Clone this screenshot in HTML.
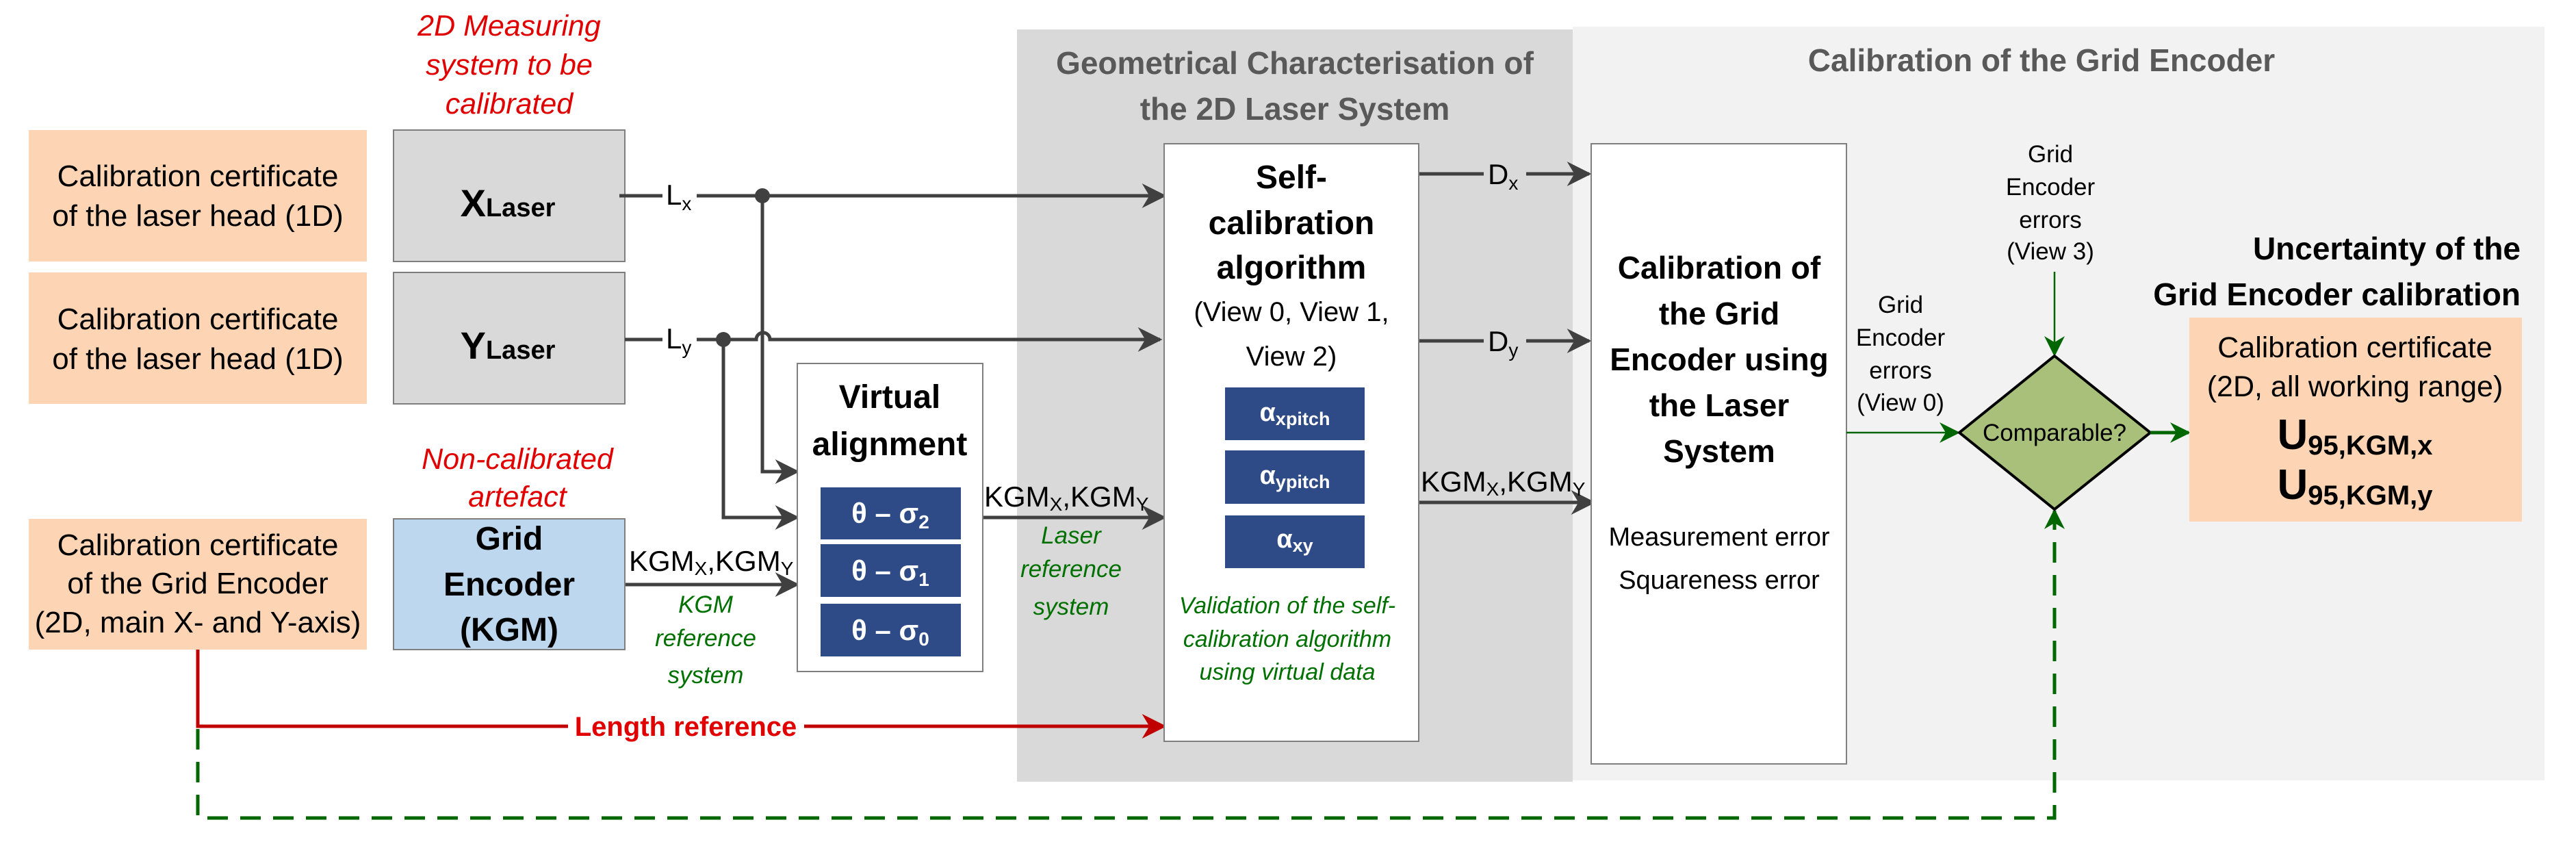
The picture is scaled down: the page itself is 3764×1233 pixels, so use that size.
<!DOCTYPE html>
<html><head><meta charset="utf-8"><style>
html,body{margin:0;padding:0;background:#fff;}
svg{display:block;}
text{font-family:"Liberation Sans",sans-serif;}
</style></head><body>
<svg width="3764" height="1233" viewBox="0 0 3764 1233" xmlns="http://www.w3.org/2000/svg">
<defs>
<marker id="ar" viewBox="0 0 10 10" refX="9" refY="5" markerWidth="36" markerHeight="36" orient="auto" markerUnits="userSpaceOnUse"><path d="M0,0 L10,5 L0,10 L3,5 z" fill="#c00000"/></marker>
<marker id="agr" viewBox="0 0 10 10" refX="9" refY="5" markerWidth="30" markerHeight="30" orient="auto" markerUnits="userSpaceOnUse"><path d="M0,0 L10,5 L0,10 L3,5 z" fill="#006600"/></marker>
<marker id="adk" viewBox="0 0 10 10" refX="9" refY="5" markerWidth="36" markerHeight="36" orient="auto" markerUnits="userSpaceOnUse"><path d="M0,0 L10,5 L0,10 L3,5 z" fill="#404040"/></marker>
</defs>

<rect x="1486" y="43" width="812" height="1099" fill="#d9d9d9"/>
<rect x="2298" y="39" width="1420" height="1101" fill="#f2f2f2"/>
<text x="1892" y="108" font-size="46" font-weight="bold" fill="#595959" text-anchor="middle">Geometrical Characterisation of</text>
<text x="1892" y="175" font-size="46" font-weight="bold" fill="#595959" text-anchor="middle">the 2D Laser System</text>
<text x="2983" y="104" font-size="46" font-weight="bold" fill="#595959" text-anchor="middle">Calibration of the Grid Encoder</text>

<g font-size="44" text-anchor="middle" fill="#000">
<rect x="42" y="190" width="494" height="192" fill="#fdd5b5"/>
<text x="289" y="272">Calibration certificate</text><text x="289" y="330">of the laser head (1D)</text>
<rect x="42" y="398" width="494" height="192" fill="#fdd5b5"/>
<text x="289" y="481">Calibration certificate</text><text x="289" y="539">of the laser head (1D)</text>
<rect x="42" y="758" width="494" height="191" fill="#fdd5b5"/>
<text x="289" y="811">Calibration certificate</text><text x="289" y="867">of the Grid Encoder</text><text x="289" y="924">(2D, main X- and Y-axis)</text>
</g>

<g font-size="43" font-style="italic" fill="#e00000" text-anchor="middle">
<text x="744" y="52">2D Measuring</text><text x="744" y="109">system  to be</text><text x="744" y="166">calibrated</text>
<text x="756" y="685">Non-calibrated</text><text x="756" y="740">artefact</text>
</g>

<rect x="575" y="190" width="338" height="192" fill="#d9d9d9" stroke="#7f7f7f" stroke-width="2"/>
<text x="742" y="316" font-size="56" font-weight="bold" text-anchor="middle">X<tspan font-size="38">Laser</tspan></text>
<rect x="575" y="398" width="338" height="192" fill="#d9d9d9" stroke="#7f7f7f" stroke-width="2"/>
<text x="742" y="524" font-size="56" font-weight="bold" text-anchor="middle">Y<tspan font-size="38">Laser</tspan></text>
<rect x="575" y="758" width="338" height="191" fill="#bdd7ee" stroke="#7f7f7f" stroke-width="2"/>
<g font-size="48" font-weight="bold" text-anchor="middle"><text x="744" y="803">Grid</text><text x="744" y="870">Encoder</text><text x="744" y="936">(KGM)</text></g>

<g stroke="#404040" stroke-width="5" fill="none">
<path d="M905,286 H968"/><path d="M1018,286 H1701" marker-end="url(#adk)"/>
<path d="M913,496 H968"/><path d="M1018,496 H1105 a10,10 0 0 1 20,0 H1695" marker-end="url(#adk)"/>
<path d="M1114,286 V689 H1165" marker-end="url(#adk)"/>
<path d="M1057,496 V756 H1165" marker-end="url(#adk)"/>
<path d="M914,854 H1165" marker-end="url(#adk)"/>
<path d="M1436,756 H1701" marker-end="url(#adk)"/>
<path d="M2070,254 H2168"/><path d="M2230,254 H2322" marker-end="url(#adk)"/>
<path d="M2073,498 H2168"/><path d="M2230,498 H2322" marker-end="url(#adk)"/>
<path d="M2073,734 H2328" marker-end="url(#adk)"/>
</g>
<circle cx="1114" cy="286" r="11" fill="#404040"/>
<circle cx="1057" cy="496" r="11" fill="#404040"/>

<text x="973" y="299" font-size="42">L<tspan font-size="28" dy="8">x</tspan></text>
<text x="973" y="509" font-size="42">L<tspan font-size="28" dy="8">y</tspan></text>
<text x="919" y="834" font-size="42">KGM<tspan font-size="28" dy="6">X</tspan><tspan dy="-6">,KGM</tspan><tspan font-size="28" dy="6">Y</tspan></text>
<text x="1438" y="740" font-size="42">KGM<tspan font-size="28" dy="6">X</tspan><tspan dy="-6">,KGM</tspan><tspan font-size="28" dy="6">Y</tspan></text>
<text x="2076" y="718" font-size="42">KGM<tspan font-size="28" dy="6">X</tspan><tspan dy="-6">,KGM</tspan><tspan font-size="28" dy="6">Y</tspan></text>
<text x="2174" y="269" font-size="42">D<tspan font-size="28" dy="8">x</tspan></text>
<text x="2174" y="513" font-size="42">D<tspan font-size="28" dy="8">y</tspan></text>

<g font-size="35" font-style="italic" fill="#007000" text-anchor="middle">
<text x="1031" y="895">KGM</text><text x="1031" y="944">reference</text><text x="1031" y="998">system</text>
<text x="1565" y="794">Laser</text><text x="1565" y="843">reference</text><text x="1565" y="898">system</text>
</g>

<rect x="1165" y="531" width="271" height="450" fill="#fff" stroke="#7f7f7f" stroke-width="2"/>
<g font-size="48" font-weight="bold" text-anchor="middle"><text x="1300" y="596">Virtual</text><text x="1300" y="665">alignment</text></g>
<g fill="#2f4b87"><rect x="1199" y="712" width="205" height="76"/><rect x="1199" y="795" width="205" height="77"/><rect x="1199" y="882" width="205" height="77"/></g>
<g font-size="42" font-weight="bold" fill="#fff" text-anchor="middle">
<text x="1301" y="764">θ – σ<tspan font-size="28" dy="8">2</tspan></text>
<text x="1301" y="848">θ – σ<tspan font-size="28" dy="8">1</tspan></text>
<text x="1301" y="935">θ – σ<tspan font-size="28" dy="8">0</tspan></text>
</g>

<path d="M289,949 V1061 H830" stroke="#c00000" stroke-width="5" fill="none"/>
<path d="M1175,1061 H1701" stroke="#c00000" stroke-width="5" fill="none" marker-end="url(#ar)"/>
<text x="1002" y="1075" font-size="40" font-weight="bold" fill="#e00000" text-anchor="middle">Length reference</text>

<path d="M289,1065 V1195 H3002 V746" stroke="#006600" stroke-width="5" fill="none" stroke-dasharray="30,18" marker-end="url(#agr)"/>

<rect x="1701" y="210" width="372" height="873" fill="#fff" stroke="#7f7f7f" stroke-width="2"/>
<g font-size="48" font-weight="bold" text-anchor="middle"><text x="1887" y="275">Self-</text><text x="1887" y="342">calibration</text><text x="1887" y="407">algorithm</text></g>
<g font-size="40" text-anchor="middle"><text x="1887" y="469">(View 0, View 1,</text><text x="1887" y="534">View 2)</text></g>
<g fill="#2f4b87"><rect x="1790" y="566" width="204" height="77"/><rect x="1790" y="658" width="204" height="78"/><rect x="1790" y="753" width="204" height="77"/></g>
<g font-size="38" font-weight="bold" fill="#fff" text-anchor="middle">
<text x="1892" y="615">α<tspan font-size="27" dy="6">xpitch</tspan></text>
<text x="1892" y="707">α<tspan font-size="27" dy="6">ypitch</tspan></text>
<text x="1892" y="800">α<tspan font-size="27" dy="6">xy</tspan></text>
</g>
<g font-size="34" font-style="italic" fill="#007000" text-anchor="middle">
<text x="1881" y="896">Validation of the self-</text><text x="1881" y="945">calibration algorithm</text><text x="1881" y="993">using virtual data</text>
</g>

<rect x="2325" y="210" width="373" height="906" fill="#fff" stroke="#7f7f7f" stroke-width="2"/>
<g font-size="46" font-weight="bold" text-anchor="middle">
<text x="2512" y="407">Calibration of</text><text x="2512" y="474">the Grid</text><text x="2512" y="541">Encoder using</text><text x="2512" y="608">the Laser</text><text x="2512" y="675">System</text>
</g>
<g font-size="38" text-anchor="middle"><text x="2512" y="797">Measurement error</text><text x="2512" y="860">Squareness error</text></g>

<g font-size="35" text-anchor="middle">
<text x="2996" y="237">Grid</text><text x="2996" y="285">Encoder</text><text x="2996" y="333">errors</text><text x="2996" y="379">(View 3)</text>
<text x="2777" y="457">Grid</text><text x="2777" y="505">Encoder</text><text x="2777" y="553">errors</text><text x="2777" y="600">(View 0)</text>
</g>
<path d="M3002,397 V518" stroke="#006600" stroke-width="2.5" fill="none" marker-end="url(#agr)"/>
<path d="M2698,632 H2861" stroke="#006600" stroke-width="2.5" fill="none" marker-end="url(#agr)"/>
<polygon points="3002,520 3142,632 3002,744 2863,632" fill="#a9c07a" stroke="#000" stroke-width="4"/>
<text x="3002" y="644" font-size="35" text-anchor="middle">Comparable?</text>
<path d="M3142,632 H3198" stroke="#006600" stroke-width="5" fill="none" marker-end="url(#agr)"/>

<g font-size="46" font-weight="bold" text-anchor="end"><text x="3683" y="379">Uncertainty of the</text><text x="3683" y="446">Grid Encoder calibration</text></g>
<rect x="3199" y="464" width="486" height="298" fill="#fdd5b5"/>
<g text-anchor="middle">
<text x="3441" y="522" font-size="43">Calibration certificate</text>
<text x="3441" y="579" font-size="43">(2D, all working range)</text>
<text x="3441" y="656" font-size="62" font-weight="bold">U<tspan font-size="40" dy="8">95,KGM,x</tspan></text>
<text x="3441" y="729" font-size="62" font-weight="bold">U<tspan font-size="40" dy="8">95,KGM,y</tspan></text>
</g>
</svg>
</body></html>
